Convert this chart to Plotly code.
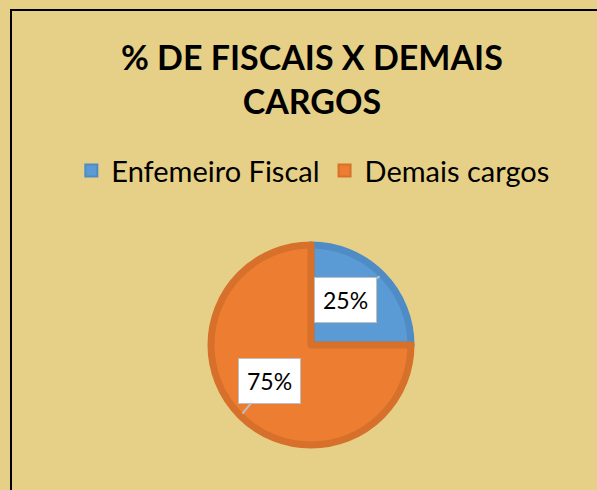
import math
import plotly.graph_objects as go

labels = ["Enfemeiro Fiscal", "Demais cargos"]
values = [25, 75]
colors = ["#5B9BD5", "#ED7D31"]
edge_colors = ["#4F8BC4", "#D6702B"]
title_text = "% DE FISCAIS X DEMAIS<br>CARGOS"

W, H = 597, 490
BG = "#E6D087"
cx_px, cy_px, R = 311, 345, 100

dom_x = [(cx_px - R) / W, (cx_px + R) / W]
dom_y = [(H - cy_px - R) / H, (H - cy_px + R) / H]

fig = go.Figure(go.Pie(
    labels=labels, values=values, sort=False, direction="clockwise", rotation=0,
    marker=dict(colors=colors, line=dict(color=edge_colors, width=7)),
    textinfo="none", hoverinfo="label+percent",
    domain=dict(x=dom_x, y=dom_y),
))

# callout labels placed at slice mid-angles computed from values
total = sum(values)
start = 0.0
offsets = [(-34, 24), (27, -33)]
for v, (ox, oy) in zip(values, offsets):
    frac = v / total
    mid = (start + frac / 2) * 2 * math.pi
    start += frac
    tx = cx_px + 0.97 * R * math.sin(mid)
    ty = cy_px - 0.97 * R * math.cos(mid)
    fig.add_annotation(
        x=tx / W, y=(H - ty) / H, xref="paper", yref="paper",
        text=f"{round(frac * 100)}%", showarrow=True, ax=ox, ay=oy,
        arrowhead=0, arrowwidth=2, arrowcolor="#BFBFBF",
        bgcolor="white", bordercolor="#BFBFBF", borderwidth=1, borderpad=8,
        font=dict(family="Lato, Open Sans, sans-serif", size=23, color="black"),
    )

fig.add_annotation(
    x=312 / W, y=1 - 78.5 / H, xref="paper", yref="paper", showarrow=False,
    xanchor="center", yanchor="middle", text=title_text,
    font=dict(family="Lato, sans-serif", size=34, color="black", weight="bold"),
)

fig.add_shape(type="rect", xref="paper", yref="paper",
              x0=11 / W, x1=1.05, y0=-0.05, y1=(H - 10) / H,
              line=dict(color="black", width=2), fillcolor="rgba(0,0,0,0)", layer="below")

fig.update_layout(
    width=W, height=H,
    paper_bgcolor=BG, plot_bgcolor=BG,
    margin=dict(l=0, r=0, t=0, b=0),
    showlegend=True,
    legend=dict(orientation="h", x=0.524, xanchor="center", y=0.704, yanchor="top",
                font=dict(family="Lato, sans-serif", size=29, color="black"),
                bgcolor="rgba(0,0,0,0)", itemsizing="constant"),
)

fig.write_html("out.html", config={"displayModeBar": False},
               post_script="document.body.style.margin='0';document.body.style.overflow='hidden';document.body.style.background='%s';" % BG)
